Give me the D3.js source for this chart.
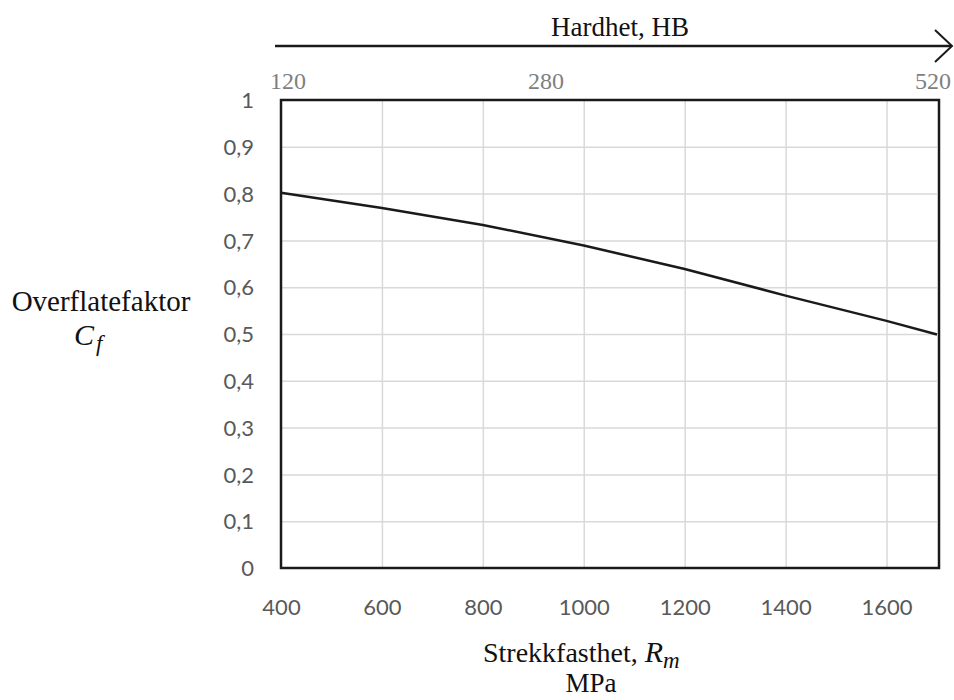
<!DOCTYPE html>
<html>
<head>
<meta charset="utf-8">
<script src="https://cdn.jsdelivr.net/npm/d3@7"></script>
<style>
  body { margin: 0; background: #fff; }
  svg { display: block; }
</style>
</head>
<body>
<svg id="chart"></svg>
<script>
const width = 954;
const height = 700;

// data
const strekkfasthet = [400, 600, 800, 1000, 1200, 1400, 1600, 1700];
const overflatefaktor = [0.802, 0.769, 0.733, 0.689, 0.639, 0.582, 0.528, 0.499];
const xTicks = [400, 600, 800, 1000, 1200, 1400, 1600];
const yTicks = [0, 0.1, 0.2, 0.3, 0.4, 0.5, 0.6, 0.7, 0.8, 0.9, 1];
const hbTicks = [120, 280, 520];

const plotLeft = 281, plotRight = 937, plotTop = 100, plotBottom = 568;

const svg = d3.select("#chart").attr("width", width).attr("height", height);

const x = d3.scaleLinear().domain([400, 1700]).range([plotLeft, plotRight]);
const y = d3.scaleLinear().domain([0, 1]).range([plotBottom, plotTop]);
const hb = d3.scaleLinear().domain([120, 520]).range([288, 933]);

const sans = "Lato, 'Open Sans', sans-serif";
const serif = "'Liberation Serif', 'DejaVu Serif', serif";

// gridlines
svg.append("g")
    .attr("transform", `translate(0,${plotBottom})`)
    .call(d3.axisBottom(x).tickValues(xTicks.slice(1)).tickSize(-(plotBottom - plotTop)).tickFormat(""))
    .call(g => g.select(".domain").remove())
    .call(g => g.selectAll("line").attr("stroke", "#d9d9d9").attr("stroke-width", 1.5));

svg.append("g")
    .attr("transform", `translate(${plotLeft},0)`)
    .call(d3.axisLeft(y).tickValues(yTicks.slice(1, -1)).tickSize(-(plotRight - plotLeft)).tickFormat(""))
    .call(g => g.select(".domain").remove())
    .call(g => g.selectAll("line").attr("stroke", "#d9d9d9").attr("stroke-width", 1.5));

// plot frame
svg.append("rect")
    .attr("x", x(400))
    .attr("y", y(1))
    .attr("width", x(1700) - x(400) + 2)
    .attr("height", y(0) - y(1))
    .attr("fill", "none")
    .attr("stroke", "#1a1a1a")
    .attr("stroke-width", 2.5);

// tick labels
const fmt = d => String(d).replace(".", ",");

svg.append("g")
    .attr("transform", `translate(0,${plotBottom})`)
    .call(d3.axisBottom(x).tickValues(xTicks).tickSize(0).tickPadding(0).tickFormat(fmt))
    .call(g => g.select(".domain").remove())
    .call(g => g.selectAll("text")
        .attr("y", 47)
        .attr("dy", 0)
        .attr("fill", "#595959")
        .style("font-family", sans)
        .style("font-size", "22px"));

svg.append("g")
    .attr("transform", `translate(${plotLeft},0)`)
    .call(d3.axisLeft(y).tickValues(yTicks).tickSize(0).tickFormat(fmt))
    .call(g => g.select(".domain").remove())
    .call(g => g.selectAll("text")
        .attr("x", -27)
        .attr("dy", "0.35em")
        .attr("fill", "#595959")
        .style("font-family", sans)
        .style("font-size", "22px"));

// line
const line = d3.line()
    .x((d, i) => x(strekkfasthet[i]))
    .y(d => y(d));

svg.append("path")
    .datum(overflatefaktor)
    .attr("d", line)
    .attr("fill", "none")
    .attr("stroke", "#1a1a1a")
    .attr("stroke-width", 2.5);

// top hardness axis with arrow
svg.append("line")
    .attr("x1", 275).attr("x2", 951)
    .attr("y1", 46).attr("y2", 46)
    .attr("stroke", "#1a1a1a")
    .attr("stroke-width", 2.5);

svg.append("path")
    .attr("d", "M935,30 L952,46 L935,62")
    .attr("fill", "none")
    .attr("stroke", "#1a1a1a")
    .attr("stroke-width", 2);

svg.append("g")
    .selectAll("text")
    .data(hbTicks)
    .join("text")
    .attr("x", d => hb(d))
    .attr("y", 89)
    .attr("text-anchor", "middle")
    .attr("fill", "#7f7f7f")
    .style("font-family", serif)
    .style("font-size", "24px")
    .text(d => d);

svg.append("text")
    .attr("x", 620)
    .attr("y", 36)
    .attr("text-anchor", "middle")
    .style("font-family", serif)
    .style("font-size", "27px")
    .attr("fill", "#111")
    .text("Hardhet, HB");

// y title
svg.append("text")
    .attr("x", 101)
    .attr("y", 311)
    .attr("text-anchor", "middle")
    .style("font-family", serif)
    .style("font-size", "29px")
    .attr("fill", "#111")
    .text("Overflatefaktor");

const cf = svg.append("text")
    .attr("x", 74)
    .attr("y", 345)
    .style("font-family", serif)
    .style("font-style", "italic")
    .style("font-size", "30px")
    .attr("fill", "#111");
cf.append("tspan").text("C");
cf.append("tspan").attr("dy", 6).attr("dx", 2).style("font-size", "23px").text("f");

// x title
const xt = svg.append("text")
    .attr("x", 483)
    .attr("y", 662)
    .style("font-family", serif)
    .style("font-size", "28px")
    .attr("fill", "#111");
xt.append("tspan").text("Strekkfasthet, ");
xt.append("tspan").style("font-style", "italic").style("font-size", "30px").text("R");
xt.append("tspan").attr("dy", 6).style("font-style", "italic").style("font-size", "23px").text("m");

svg.append("text")
    .attr("x", 591)
    .attr("y", 692)
    .attr("text-anchor", "middle")
    .style("font-family", serif)
    .style("font-size", "27px")
    .attr("fill", "#111")
    .text("MPa");
</script>
</body>
</html>
